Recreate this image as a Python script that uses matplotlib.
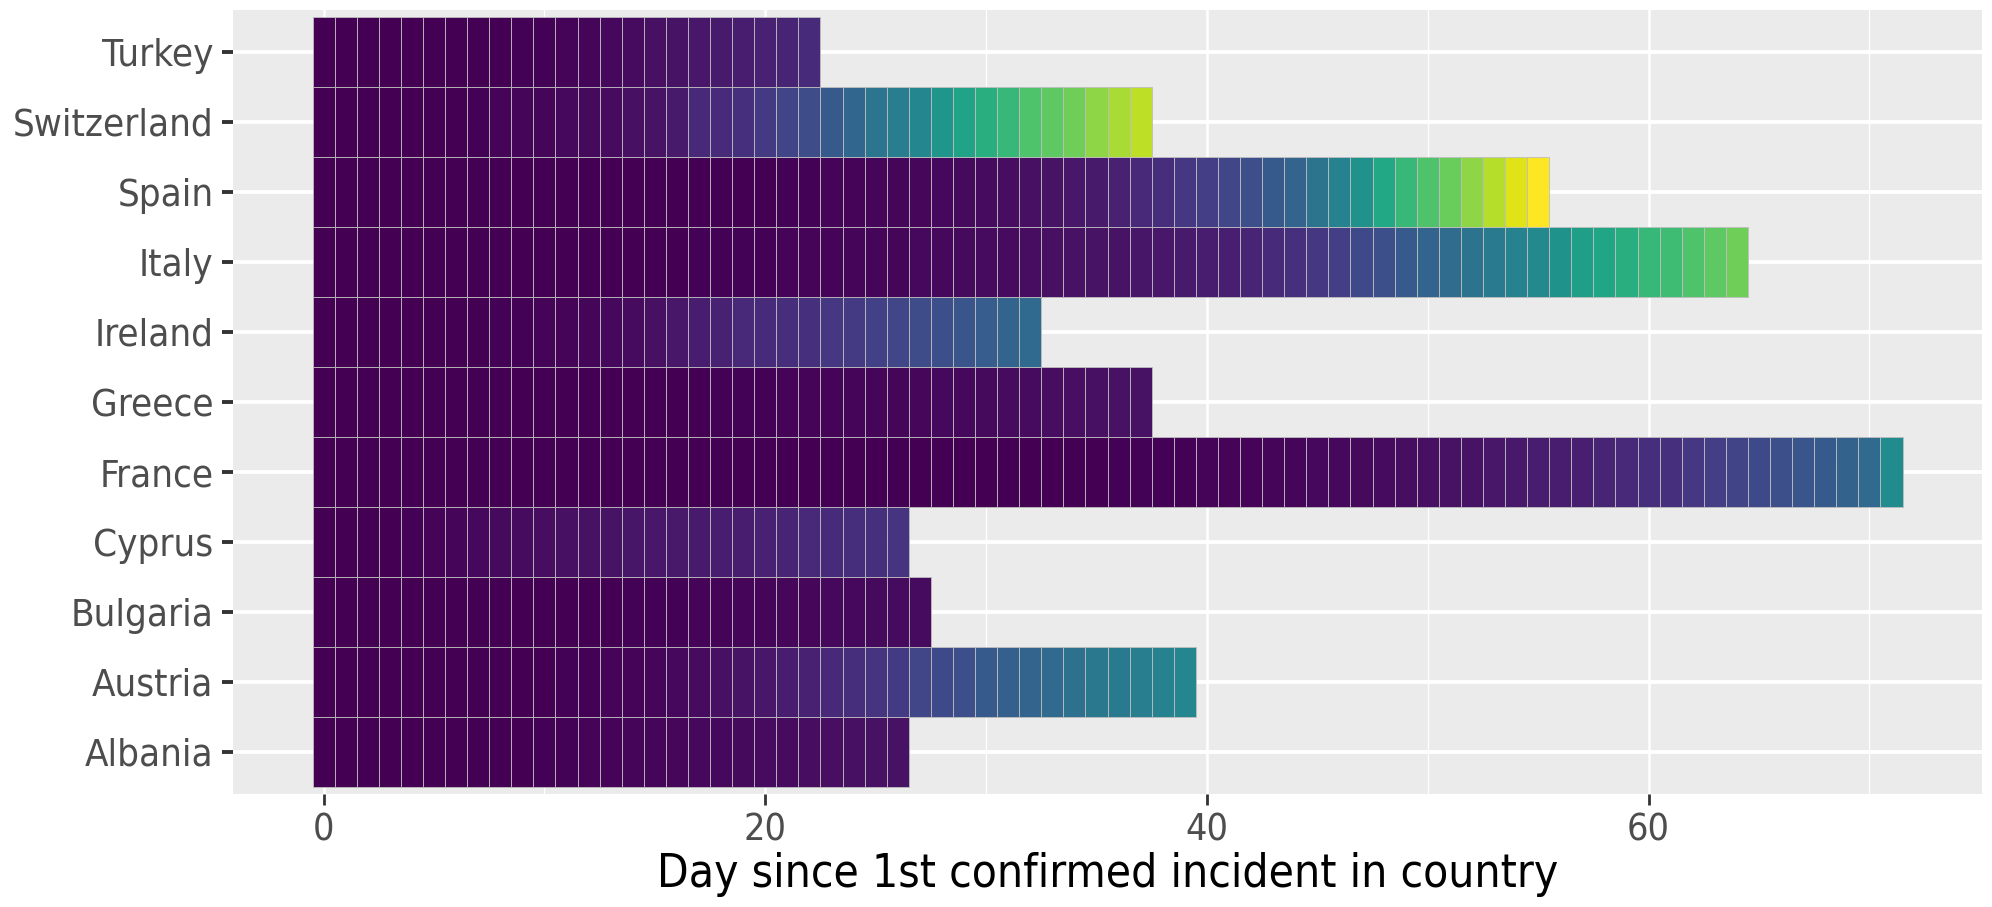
import numpy as np
import matplotlib
matplotlib.use("Agg")
import matplotlib.pyplot as plt
from matplotlib.ticker import MultipleLocator

# countries from bottom to top, fill value per day (viridis scale, 0..1)
countries = ['Albania', 'Austria', 'Bulgaria', 'Cyprus', 'France', 'Greece',
             'Ireland', 'Italy', 'Spain', 'Switzerland', 'Turkey']

albania = [0, 0, 0, 0, 0, 0, 0, 0, 0, 0.002, 0.004, 0.006, 0.008, 0.01, 0.012,
           0.015, 0.018, 0.02, 0.022, 0.025, 0.028, 0.03, 0.033, 0.036, 0.04,
           0.043, 0.046]
austria = [0, 0, 0, 0, 0, 0, 0, 0, 0, 0, 0.002, 0.004, 0.006, 0.008, 0.01,
           0.015, 0.02, 0.03, 0.04, 0.05, 0.06, 0.08, 0.09, 0.11, 0.13, 0.15,
           0.17, 0.21, 0.22, 0.24, 0.28, 0.3, 0.32, 0.34, 0.37, 0.4, 0.41, 0.42,
           0.44, 0.46]
bulgaria = [0, 0, 0, 0, 0, 0, 0, 0, 0, 0, 0, 0, 0.002, 0.003, 0.004, 0.005,
            0.006, 0.008, 0.01, 0.012, 0.014, 0.016, 0.018, 0.02, 0.022, 0.025,
            0.028, 0.03]
cyprus = [0, 0, 0, 0, 0.005, 0.01, 0.015, 0.02, 0.025, 0.03, 0.035, 0.04,
          0.045, 0.05, 0.055, 0.06, 0.065, 0.07, 0.075, 0.08, 0.09, 0.1, 0.11,
          0.12, 0.13, 0.14, 0.15]
france = [0, 0, 0, 0, 0, 0, 0, 0, 0, 0, 0, 0, 0, 0, 0, 0, 0, 0, 0, 0, 0, 0, 0,
          0, 0, 0, 0, 0, 0, 0, 0.001, 0.001, 0.002, 0.002, 0.003, 0.003, 0.004,
          0.004, 0.005, 0.005, 0.01, 0.01, 0.01, 0.015, 0.015, 0.02, 0.02,
          0.025, 0.03, 0.035, 0.04, 0.045, 0.05, 0.06, 0.065, 0.075, 0.08,
          0.085, 0.1, 0.11, 0.13, 0.14, 0.16, 0.18, 0.2, 0.22, 0.24, 0.26,
          0.28, 0.31, 0.34, 0.48]
greece = [0, 0, 0, 0, 0, 0, 0, 0, 0, 0, 0, 0, 0, 0, 0, 0, 0.002, 0.003, 0.004,
          0.005, 0.006, 0.008, 0.01, 0.011, 0.012, 0.013, 0.015, 0.018, 0.02,
          0.022, 0.025, 0.028, 0.03, 0.033, 0.036, 0.04, 0.043, 0.046]
ireland = [0, 0, 0, 0, 0, 0, 0, 0.002, 0.004, 0.006, 0.008, 0.01, 0.015, 0.02,
           0.03, 0.04, 0.06, 0.08, 0.09, 0.11, 0.12, 0.13, 0.14, 0.16, 0.17,
           0.19, 0.21, 0.23, 0.24, 0.26, 0.29, 0.32, 0.34]
italy = [0, 0, 0, 0, 0, 0, 0, 0, 0, 0, 0, 0, 0, 0, 0, 0.002, 0.003, 0.004,
         0.005, 0.006, 0.007, 0.008, 0.009, 0.01, 0.012, 0.014, 0.015, 0.02,
         0.02, 0.025, 0.03, 0.03, 0.035, 0.04, 0.045, 0.05, 0.05, 0.055, 0.06,
         0.07, 0.08, 0.085, 0.1, 0.12, 0.14, 0.16, 0.18, 0.22, 0.24, 0.28,
         0.32, 0.35, 0.38, 0.41, 0.44, 0.47, 0.51, 0.56, 0.59, 0.63, 0.67,
         0.69, 0.72, 0.75, 0.78]
spain = [0, 0, 0, 0, 0, 0, 0, 0, 0, 0, 0, 0, 0, 0, 0, 0, 0, 0, 0, 0, 0.002,
         0.004, 0.006, 0.008, 0.01, 0.012, 0.014, 0.016, 0.02, 0.025, 0.03,
         0.035, 0.04, 0.05, 0.06, 0.07, 0.09, 0.11, 0.13, 0.16, 0.18, 0.21,
         0.24, 0.28, 0.32, 0.38, 0.44, 0.5, 0.6, 0.67, 0.72, 0.77, 0.83, 0.89,
         0.95, 1.0]
switzerland = [0, 0, 0, 0, 0, 0, 0, 0.005, 0.01, 0.012, 0.015, 0.02, 0.025,
               0.03, 0.04, 0.05, 0.07, 0.11, 0.12, 0.14, 0.17, 0.2, 0.23, 0.28,
               0.33, 0.39, 0.42, 0.46, 0.52, 0.58, 0.63, 0.67, 0.72, 0.75, 0.78,
               0.83, 0.87, 0.9]
turkey = [0, 0, 0, 0, 0, 0, 0, 0, 0, 0.005, 0.005, 0.01, 0.015, 0.02, 0.03,
          0.04, 0.05, 0.06, 0.07, 0.08, 0.09, 0.1, 0.12]

series = [albania, austria, bulgaria, cyprus, france, greece, ireland, italy,
          spain, switzerland, turkey]

plt.rcParams['font.family'] = ['DejaVu Sans']

fig = plt.figure(figsize=(19.92, 9.07), dpi=100)
ax = fig.add_axes([233 / 1992, 1 - 794 / 907, (1982 - 233) / 1992, (794 - 10) / 907])
ax.set_facecolor('#EBEBEB')

cmap = plt.get_cmap('viridis')
for i, vals in enumerate(series):
    days = np.arange(len(vals))
    ax.barh(np.full(len(vals), i + 1), 1, left=days - 0.5, height=1,
            color=cmap(np.array(vals)), edgecolor='#bebebe', linewidth=0.6,
            zorder=3)

ax.set_xlim(-4.1, 75.1)
ax.set_ylim(0.4, 11.6)
ax.xaxis.set_major_locator(MultipleLocator(20))
ax.xaxis.set_minor_locator(MultipleLocator(10))
ax.set_yticks(range(1, len(countries) + 1))
ax.set_yticklabels(countries)

ax.grid(which='major', axis='x', color='white', linewidth=1.8, zorder=1)
ax.grid(which='minor', axis='x', color='white', linewidth=0.9, zorder=1)
ax.grid(which='major', axis='y', color='white', linewidth=2.8, zorder=1)
ax.set_axisbelow(True)
for s in ax.spines.values():
    s.set_visible(False)

ax.tick_params(axis='y', which='major', length=8, width=2.8, color='#333333',
               labelcolor='#4D4D4D', labelsize=27.5, pad=6)
ax.tick_params(axis='x', which='major', length=8, width=2.0, color='#333333',
               labelcolor='#4D4D4D', labelsize=27, pad=5)
ax.tick_params(which='minor', length=0)
for lab in ax.get_xticklabels() + ax.get_yticklabels():
    lab.set_fontstretch('condensed')

ax.set_xlabel('Day since 1st confirmed incident in country', fontsize=33,
              fontstretch='condensed', color='black', labelpad=3)

fig.savefig('out.png', dpi=100)
